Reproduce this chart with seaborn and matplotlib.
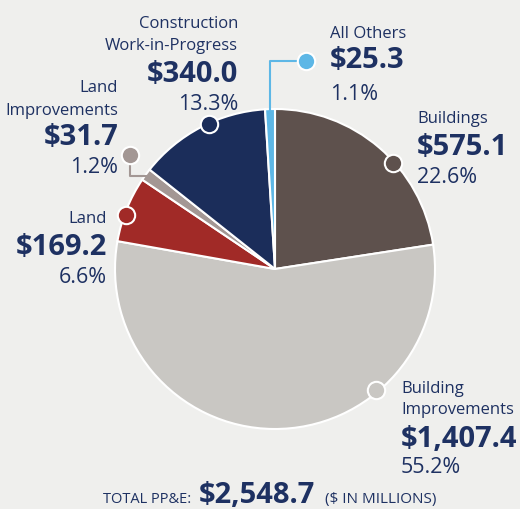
import numpy as np
import matplotlib
matplotlib.use("Agg")
import matplotlib.pyplot as plt
import seaborn as sns

# ---- data ----
categories = ["Buildings", "Building\nImprovements", "Land", "Land\nImprovements",
              "Construction\nWork-in-Progress", "All Others"]
values = [575.1, 1407.4, 169.2, 31.7, 340.0, 25.3]
value_labels = ["$575.1", "$1,407.4", "$169.2", "$31.7", "$340.0", "$25.3"]
pct_labels = ["22.6%", "55.2%", "6.6%", "1.2%", "13.3%", "1.1%"]
total_label = "$2,548.7"

# ---- style ----
colors = ["#5E514D", "#C9C7C3", "#A12A27", "#A39794", "#1B2D5A", "#5DB7E6"]
bg = "#EFEFED"
navy = "#1E3162"

sns.set_theme(style="white")
plt.rcParams["font.family"] = ["Open Sans", "DejaVu Sans"]

W, H = 520, 510
fig = plt.figure(figsize=(W / 100, H / 100), dpi=100, facecolor=bg)
ax = fig.add_axes([0, 0, 1, 1])
ax.set_facecolor(bg)

cx, cy, R = 275, H - 270, 160
wedges, _ = ax.pie(values, colors=colors, startangle=90, counterclock=False,
                   center=(cx, cy), radius=R,
                   wedgeprops=dict(edgecolor="white", linewidth=1.5))
ax.set_xlim(0, W)
ax.set_ylim(0, H)
ax.set_aspect("equal")
ax.axis("off")

def py(y):
    return H - y

# layout: (text x, align, baselines for name lines, value baseline, pct baseline, dot px pos)
layout = [
    dict(x=417, ha="left", name_bl=[123], val_bl=155, pct_bl=183, dot=(393, 164)),
    dict(x=401, ha="left", name_bl=[393, 414], val_bl=447, pct_bl=473, dot=(376, 391)),
    dict(x=107, ha="right", name_bl=[223], val_bl=255, pct_bl=283, dot=(126, 216)),
    dict(x=118, ha="right", name_bl=[92, 115], val_bl=145, pct_bl=173, dot=(130, 156)),
    dict(x=238, ha="right", name_bl=[28, 50], val_bl=82, pct_bl=110, dot=(209, 125)),
    dict(x=330, ha="left", name_bl=[38], val_bl=68, pct_bl=100, dot=(306, 62)),
]

NAME_FS, VAL_FS, PCT_FS = 12.0, 21.0, 15.5

for i, (name, val, pct, lay) in enumerate(zip(categories, value_labels, pct_labels, layout)):
    for line, bl in zip(name.split("\n"), lay["name_bl"]):
        ax.text(lay["x"], py(bl), line, ha=lay["ha"], va="baseline",
                fontsize=NAME_FS, color=navy)
    ax.text(lay["x"], py(lay["val_bl"]), val, ha=lay["ha"], va="baseline",
            fontsize=VAL_FS, fontweight="bold", color=navy)
    ax.text(lay["x"], py(lay["pct_bl"]), pct, ha=lay["ha"], va="baseline",
            fontsize=PCT_FS, color=navy)

# connectors for the thin slices
def mid_point(w, r):
    a = np.deg2rad((w.theta1 + w.theta2) / 2)
    return cx + r * np.cos(a), cy + r * np.sin(a)

# Land Improvements (index 3)
sx, sy = mid_point(wedges[3], R - 3)
dx, dy = layout[3]["dot"]
ax.plot([sx, dx, dx], [sy, sy, py(dy)], color=colors[3], lw=1.5, zorder=3,
        solid_capstyle="butt")
# All Others (index 5)
sx, sy = mid_point(wedges[5], R - 2)
dx, dy = layout[5]["dot"]
ax.plot([sx, sx, dx], [sy, py(dy), py(dy)], color=colors[5], lw=1.5, zorder=3,
        solid_capstyle="butt")

for col, lay in zip(colors, layout):
    dx, dy = lay["dot"]
    ax.plot(dx, py(dy), "o", ms=12.5, mfc=col, mec="white", mew=1.5, zorder=5)

# total line
ax.text(103, py(503), "TOTAL PP&E:", ha="left", va="baseline", fontsize=10.5, color=navy)
ax.text(199, py(503), total_label, ha="left", va="baseline", fontsize=21,
        fontweight="bold", color=navy)
ax.text(325, py(503), "($ IN MILLIONS)", ha="left", va="baseline", fontsize=11, color=navy)

fig.savefig("out.png", dpi=100, facecolor=bg)
